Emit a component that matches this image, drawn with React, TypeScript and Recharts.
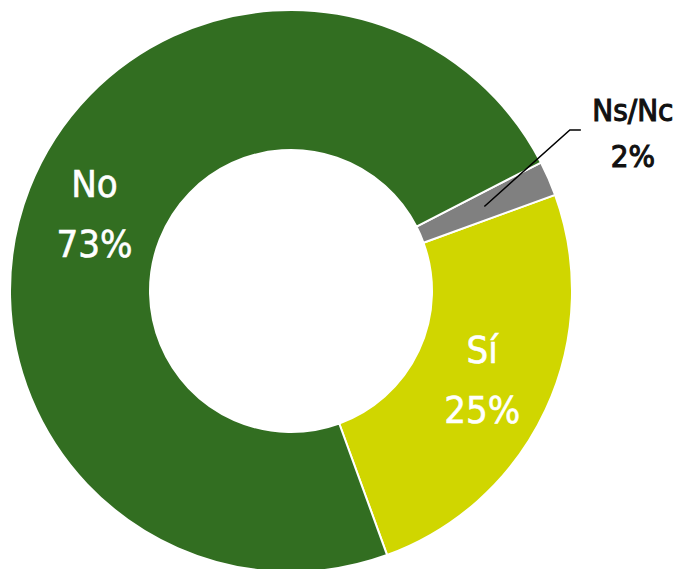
import { PieChart, Pie, Cell } from 'recharts'

const categories = ['Sí', 'Ns/Nc', 'No']
const values = [25, 2, 73]
const colors = ['#d0d600', '#808080', '#326e21']

const data = categories.map((name, i) => ({ name, value: values[i] }))

const RAD = Math.PI / 180
const FONT = '"DejaVu Sans Condensed", "DejaVu Sans", sans-serif'

function renderLabel(props: any) {
  const { cx, cy, midAngle, innerRadius, outerRadius, index } = props
  const name = categories[index]
  const pct = `${values[index]}%`
  const r = (innerRadius + outerRadius) / 2
  const x = cx + r * Math.cos(-midAngle * RAD)
  const y = cy + r * Math.sin(-midAngle * RAD)

  if (name === 'Ns/Nc') {
    // leader line out to the right of the ring
    const ex = cx + (outerRadius + 41) * Math.cos(-30 * RAD)
    const ey = cy + (outerRadius + 41) * Math.sin(-30 * RAD)
    return (
      <g>
        <polyline
          points={`${x},${y} ${ex},${ey} ${ex + 11},${ey}`}
          fill="none"
          stroke="#000"
          strokeWidth={1.5}
        />
        <text x={ex + 63} y={ey - 9} textAnchor="middle" fill="#111" stroke="#111" strokeWidth={1.1} fontSize={31} fontFamily={FONT}>
          {name}
        </text>
        <text x={ex + 63} y={ey + 37} textAnchor="middle" fill="#111" stroke="#111" strokeWidth={1.1} fontSize={31} fontFamily={FONT}>
          {pct}
        </text>
      </g>
    )
  }

  return (
    <g>
      <text x={x} y={y - 17} textAnchor="middle" fill="#fff" stroke="#fff" strokeWidth={0.6} fontSize={38} fontFamily={FONT}>
        {name}
      </text>
      <text x={x} y={y + 43} textAnchor="middle" fill="#fff" stroke="#fff" strokeWidth={0.6} fontSize={38} fontFamily={FONT}>
        {pct}
      </text>
    </g>
  )
}

export default function App() {
  return (
    <div style={{ position: 'absolute', left: 0, top: 0, width: 681, height: 569, background: '#fff' }}>
      <PieChart width={681} height={569} margin={{ top: 0, right: 0, bottom: 0, left: 0 }}>
        <Pie
          data={data}
          dataKey="value"
          cx={291}
          cy={291}
          innerRadius={141}
          outerRadius={281}
          startAngle={-70}
          endAngle={290}
          stroke="#fff"
          strokeWidth={2}
          label={renderLabel}
          labelLine={false}
          isAnimationActive={false}
        >
          {data.map((d, i) => (
            <Cell key={d.name} fill={colors[i]} />
          ))}
        </Pie>
      </PieChart>
    </div>
  )
}
